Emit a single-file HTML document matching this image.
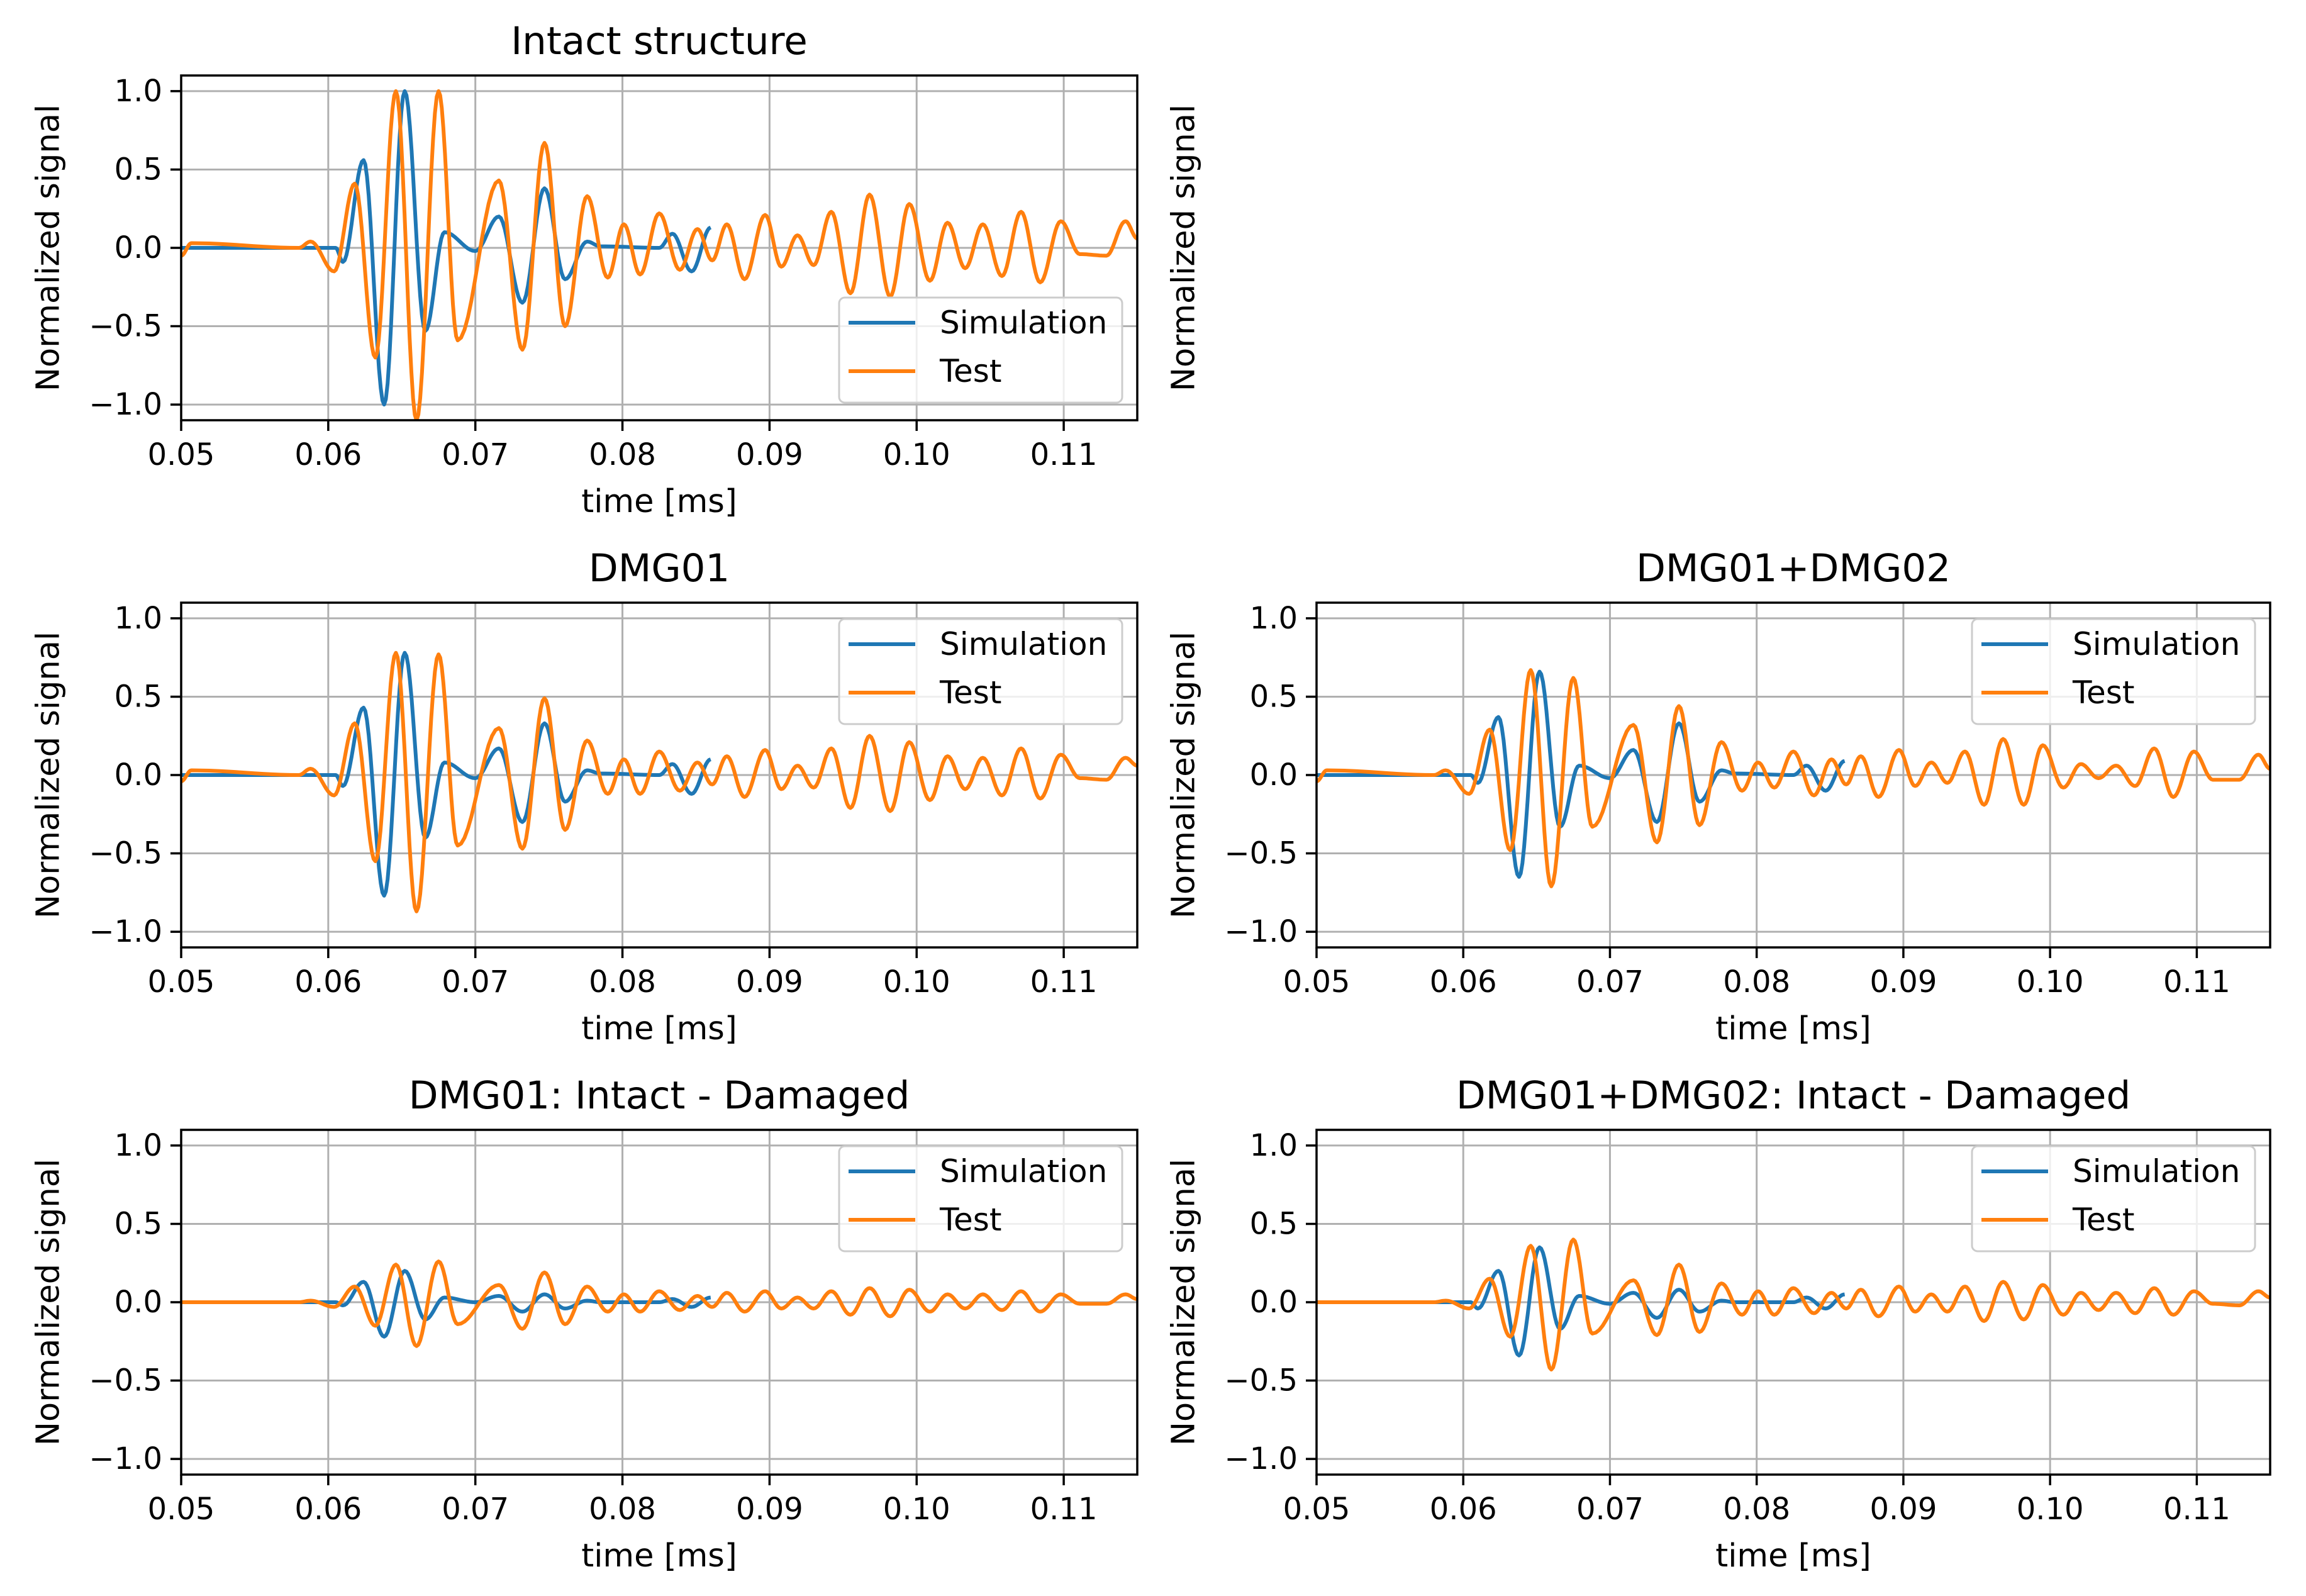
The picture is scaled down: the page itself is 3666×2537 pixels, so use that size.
<!DOCTYPE html>
<html><head><meta charset="utf-8">
<style>
html,body{margin:0;padding:0;background:#fff;}
svg{display:block;font-family:"DejaVu Sans","Liberation Sans",sans-serif;}
</style></head>
<body>
<svg id="fig" width="3666" height="2537" viewBox="0 0 3666 2537" xmlns="http://www.w3.org/2000/svg">
<rect width="3666" height="2537" fill="#fff"/>
</svg>
<script>
// ---- data ----
const xTicks = [0.05,0.06,0.07,0.08,0.09,0.10,0.11];
const xTickLabels = ["0.05","0.06","0.07","0.08","0.09","0.10","0.11"];
const yTicks = [-1.0,-0.5,0.0,0.5,1.0];
const yTickLabels = ["\u22121.0","\u22120.5","0.0","0.5","1.0"];
const panelTitles = ["Intact structure","DMG01","DMG01+DMG02","DMG01: Intact - Damaged","DMG01+DMG02: Intact - Damaged"];
// extremum times of test (orange) and simulation (blue) signals
const testTimes = [0.050,0.0507,0.058,0.0588,0.0604,0.0618,0.0632,0.0646,0.066,0.0675,0.0688,0.0716,0.0732,0.0747,0.0761,0.0776,0.079,0.0801,0.0812,0.0825,0.0839,0.0851,0.0861,0.0871,0.0883,0.0897,0.0908,0.0919,0.093,0.0942,0.0955,0.0968,0.0982,0.0995,0.1009,0.1021,0.1033,0.1045,0.1058,0.1071,0.1084,0.1098,0.1111,0.1129,0.1142,0.115];
const simTimes = [0.05,0.0605,0.061,0.0624,0.0638,0.0652,0.0666,0.0679,0.07,0.0716,0.0732,0.0747,0.0761,0.0776,0.0785,0.0825,0.0834,0.0847,0.086];
const testIntact = [-0.05,0.03,0,0.04,-0.15,0.41,-0.70,1.0,-1.1,1.0,-0.59,0.43,-0.65,0.67,-0.5,0.33,-0.19,0.15,-0.17,0.22,-0.14,0.12,-0.08,0.15,-0.2,0.21,-0.12,0.08,-0.11,0.23,-0.29,0.34,-0.31,0.28,-0.21,0.16,-0.13,0.15,-0.18,0.23,-0.22,0.17,-0.04,-0.05,0.17,0.06];
const testDmg01 = [-0.04,0.03,0,0.04,-0.13,0.33,-0.55,0.78,-0.87,0.77,-0.45,0.30,-0.47,0.49,-0.35,0.22,-0.12,0.1,-0.12,0.15,-0.1,0.08,-0.06,0.12,-0.14,0.16,-0.09,0.06,-0.08,0.17,-0.21,0.25,-0.23,0.21,-0.16,0.12,-0.09,0.11,-0.13,0.17,-0.15,0.13,-0.02,-0.03,0.11,0.06];
const testDmg0102 = [-0.04,0.03,0,0.03,-0.12,0.29,-0.48,0.67,-0.71,0.62,-0.33,0.32,-0.43,0.44,-0.32,0.21,-0.1,0.08,-0.08,0.15,-0.13,0.1,-0.06,0.12,-0.14,0.16,-0.07,0.08,-0.05,0.15,-0.19,0.23,-0.19,0.19,-0.08,0.07,-0.02,0.06,-0.07,0.17,-0.14,0.15,-0.03,-0.03,0.13,0.04];
const testDiff01 = [0,0,0,0.01,-0.03,0.1,-0.15,0.24,-0.28,0.26,-0.14,0.11,-0.17,0.19,-0.14,0.1,-0.06,0.05,-0.06,0.07,-0.05,0.04,-0.03,0.06,-0.06,0.07,-0.04,0.03,-0.04,0.07,-0.08,0.09,-0.09,0.08,-0.06,0.05,-0.04,0.05,-0.05,0.07,-0.06,0.05,-0.01,-0.01,0.05,0.02];
const testDiff0102 = [0,0,0,0.01,-0.04,0.15,-0.22,0.36,-0.43,0.40,-0.2,0.14,-0.21,0.24,-0.19,0.12,-0.08,0.07,-0.08,0.09,-0.07,0.06,-0.04,0.08,-0.09,0.1,-0.06,0.05,-0.06,0.1,-0.12,0.13,-0.11,0.11,-0.08,0.06,-0.05,0.06,-0.07,0.09,-0.08,0.07,-0.01,-0.02,0.07,0.03];
const simIntact = [0,0,-0.09,0.56,-1.0,1.0,-0.53,0.1,-0.02,0.2,-0.35,0.38,-0.2,0.04,0.01,0,0.09,-0.15,0.13];
const simDmg01 = [0,0,-0.07,0.43,-0.77,0.78,-0.4,0.08,-0.02,0.17,-0.3,0.33,-0.17,0.03,0.01,0,0.07,-0.12,0.1];
const simDmg0102 = [0,0,-0.05,0.37,-0.65,0.66,-0.33,0.06,-0.02,0.16,-0.3,0.33,-0.17,0.03,0.01,0,0.06,-0.1,0.09];
const simDiff01 = [0,0,-0.02,0.13,-0.22,0.2,-0.11,0.03,0,0.04,-0.06,0.05,-0.04,0.01,0,0,0.02,-0.03,0.03];
const simDiff0102 = [0,0,-0.04,0.2,-0.34,0.35,-0.17,0.04,-0.01,0.06,-0.1,0.08,-0.06,0.01,0,0,0.03,-0.04,0.05];

const NS = "http://www.w3.org/2000/svg";
const svg = document.getElementById('fig');
function el(tag, attrs, parent){
  const e = document.createElementNS(NS, tag);
  for (const k in attrs) e.setAttribute(k, attrs[k]);
  (parent||svg).appendChild(e);
  return e;
}
const XMIN=0.05, XMAX=0.115, YMIN=-1.1, YMAX=1.1;
const COLS=[288,2093], W=[1520,1516], ROWS=[120,958,1796], H=548;
const BLUE="#1f77b4", ORANGE="#ff7f0e";

function ylabel(x, cy, parent){
  const t = el('text',{x:x,y:cy,'font-size':51,'text-anchor':'middle','dominant-baseline':'central',transform:`rotate(-90 ${x} ${cy})`,fill:'#000'},parent);
  t.textContent = "Normalized signal";
  
  
}

const panels = [
  {c:0,r:0,title:panelTitles[0],test:testIntact,sim:simIntact,leg:'lr',name:'intact'},
  {c:0,r:1,title:panelTitles[1],test:testDmg01,sim:simDmg01,leg:'ur',name:'dmg01'},
  {c:1,r:1,title:panelTitles[2],test:testDmg0102,sim:simDmg0102,leg:'ur',name:'dmg01-dmg02'},
  {c:0,r:2,title:panelTitles[3],test:testDiff01,sim:simDiff01,leg:'ur',name:'dmg01-diff'},
  {c:1,r:2,title:panelTitles[4],test:testDiff0102,sim:simDiff0102,leg:'ur',name:'dmg01-dmg02-diff'}
];

function curve(times, vals, sx, sy){
  let d = "";
  for (let i=0;i<times.length-1;i++){
    const t0=times[i], t1=times[i+1], v0=vals[i], v1=vals[i+1];
    const n=12;
    for (let k=(i===0?0:1);k<=n;k++){
      const u=k/n, t=t0+(t1-t0)*u, v=v0+(v1-v0)*(1-Math.cos(Math.PI*u))/2;
      d += (d===""?"M":"L")+sx(t).toFixed(1)+","+sy(v).toFixed(1);
    }
  }
  return d;
}

panels.forEach((p,idx)=>{
  const L=COLS[p.c], w=W[p.c], T=ROWS[p.r];
  const g = el('g',{});
  
  
  const sx = t => L + (t-XMIN)/(XMAX-XMIN)*w;
  const sy = v => T + (YMAX-v)/(YMAX-YMIN)*H;
  xTicks.forEach((t,i)=>{
    const gl = el('line',{x1:sx(t),x2:sx(t),y1:T,y2:T+H,stroke:'#b0b0b0','stroke-width':3},g);
    
    
    const tk = el('line',{x1:sx(t),x2:sx(t),y1:T+H,y2:T+H+17,stroke:'#000','stroke-width':3.5},g);
    
    
    const tl = el('text',{x:sx(t),y:T+H+71,'font-size':48,'text-anchor':'middle',fill:'#000'},g);
    tl.textContent = xTickLabels[i];
    
    
  });
  yTicks.forEach((v,i)=>{
    const gl = el('line',{x1:L,x2:L+w,y1:sy(v),y2:sy(v),stroke:'#b0b0b0','stroke-width':3},g);
    
    
    const tk = el('line',{x1:L-17,x2:L,y1:sy(v),y2:sy(v),stroke:'#000','stroke-width':3.5},g);
    
    
    const tl = el('text',{x:L-30,y:sy(v),'font-size':48,'text-anchor':'end','dominant-baseline':'central',fill:'#000'},g);
    tl.textContent = yTickLabels[i];
    
    
  });
  const cp = el('clipPath',{id:'clip'+idx},g);
  el('rect',{x:L,y:T,width:w,height:H},cp);
  const sl = el('path',{d:curve(simTimes,p.sim,sx,sy),fill:'none',stroke:BLUE,'stroke-width':6,'stroke-linejoin':'round','clip-path':`url(#clip${idx})`},g);
  
  
  const tl = el('path',{d:curve(testTimes,p.test,sx,sy),fill:'none',stroke:ORANGE,'stroke-width':6,'stroke-linejoin':'round','clip-path':`url(#clip${idx})`},g);
  
  
  const fr = el('rect',{x:L,y:T,width:w,height:H,fill:'none',stroke:'#000','stroke-width':3.5},g);
  
  
  const tt = el('text',{x:L+w/2,y:T-34,'font-size':61,'text-anchor':'middle',fill:'#000'},g);
  tt.textContent = p.title;
  
  
  const xl = el('text',{x:L+w/2,y:T+H+146,'font-size':51,'text-anchor':'middle',fill:'#000'},g);
  xl.textContent = "time [ms]";
  
  
  ylabel(L-211, T+H/2, g);
  const lw=450, lh=167;
  const lx = L+w-24-lw;
  const ly = p.leg==='lr' ? T+H-28-lh : T+26;
  const lg = el('g',{},g);
  
  
  el('rect',{x:lx,y:ly,width:lw,height:lh,rx:9,fill:'#fff','fill-opacity':0.8,stroke:'#cccccc','stroke-width':3},lg);
  [['Simulation',BLUE,40],['Test',ORANGE,117]].forEach(([nm,col,dy])=>{
    const e = el('g',{},lg);
    
    
    el('line',{x1:lx+15,x2:lx+121,y1:ly+dy,y2:ly+dy,stroke:col,'stroke-width':6},e);
    const t = el('text',{x:lx+160,y:ly+dy,'font-size':50,'dominant-baseline':'central',fill:'#000'},e);
    t.textContent = nm;
  });
});
ylabel(1882, ROWS[0]+H/2, svg);
</script>
</body></html>
